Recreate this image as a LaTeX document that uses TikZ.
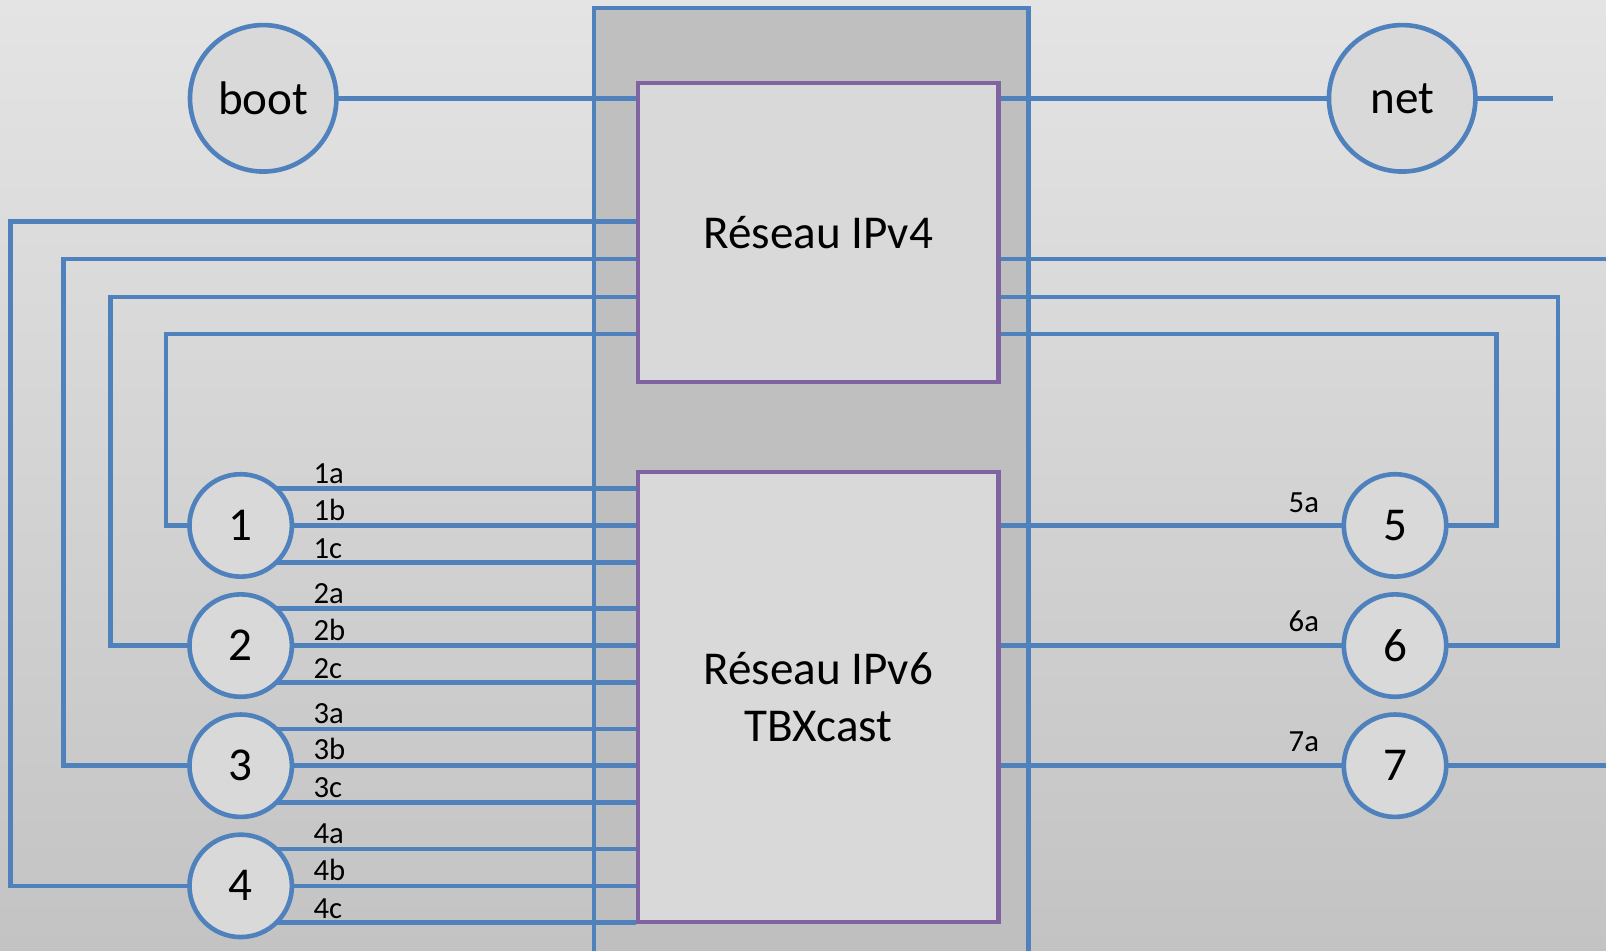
\documentclass[tikz,border=0pt]{standalone}
\usepackage{fontspec}
\setmainfont{Carlito}
\usetikzlibrary{positioning}
\definecolor{linkblue}{HTML}{4F81BD}
\definecolor{boxpurple}{HTML}{8064A2}
\definecolor{colgray}{HTML}{BFBFBF}
\definecolor{boxgray}{HTML}{D9D9D9}
\definecolor{bgtop}{HTML}{E4E4E4}
\definecolor{bgbottom}{HTML}{C3C3C3}
\pgfdeclarelayer{back}
\pgfdeclarelayer{wires}
\pgfsetlayers{back,wires,main}

\begin{document}
\begin{tikzpicture}[
        x=1pt, y=-1pt,
        link/.style={
            draw=linkblue,
            line width=4.5pt
        },
        netbox/.style={
            rectangle,
            draw=boxpurple,
            line width=4.5pt,
            fill=boxgray,
            minimum width=352pt,
            align=center,
            font=\fontsize{46}{56}\selectfont
        },
        bigport/.style={
            circle,
            draw=linkblue,
            line width=4.5pt,
            fill=boxgray,
            minimum size=143pt,
            inner sep=0pt,
            outer sep=0pt,
            font=\fontsize{46}{56}\selectfont
        },
        port/.style={
            bigport,
            minimum size=100pt
        },
        portlabel/.style={
            inner sep=0pt,
            font=\fontsize{30}{34}\selectfont
        }
    ]
    \useasboundingbox (0,0) rectangle (1568,928);

    % Background and middle column
    \begin{pgfonlayer}{back}
        \shade[top color=bgtop, bottom color=bgbottom] (0,0) rectangle (1568,928);
        \path[link, fill=colgray] (580,940) -- (580,8) -- (1004,8) -- (1004,940);
    \end{pgfonlayer}

    % Networks
    \node[netbox, minimum height=292pt] (v4) at (799,227) {Réseau IPv4};
    \node[netbox, minimum height=439pt] (v6) at (799,680.5) {Réseau IPv6\\TBXcast};

    % boot and net
    \node[bigport] (boot) at (257,96) {boot};
    \node[bigport] (net) at (1369,96) {net};

    % Ports 1 to 4 with their labels
    \node[port] (p1) at (235,513) {1};
    \node[port, below=17.3pt of p1] (p2) {2};
    \node[port, below=17.3pt of p2] (p3) {3};
    \node[port, below=17.3pt of p3] (p4) {4};
    \foreach \i/\y in {1/513,2/630,3/747,4/865}{
        \node[portlabel, anchor=base west] (l\i a) at (306,\y-41) {\i a};
        \node[portlabel, anchor=base west] (l\i b) at (306,\y-5) {\i b};
        \node[portlabel, anchor=base west] (l\i c) at (306,\y+32) {\i c};
    }

    % Ports 5 to 7 with their labels
    \node[port] (p5) at (1362,513) {5};
    \node[port, below=17.3pt of p5] (p6) {6};
    \node[port, below=17.3pt of p6] (p7) {7};
    \foreach \i/\y in {5/513,6/630,7/747}{
        \node[portlabel, anchor=base east] (l\i a) at (1288,\y-13) {\i a};
    }

    \coordinate (netend) at (1516,96);
    \coordinate (edge) at (1568,253);
    \coordinate (bend5) at (1461,326);
    \coordinate (bend6) at (1521,290);

    % Links
    \begin{pgfonlayer}{wires}
        \draw[link] (boot.east) -- (boot.east -| v4.west);
        \draw[link] (v4.east |- net) -- (net.west);
        \draw[link] (net.east) -- (netend);
        \foreach \i in {1,2,3,4}{
            \draw[link] (p\i.46) -- (p\i.46 -| v6.west);
            \draw[link] (p\i.east) -- (p\i.east -| v6.west);
            \draw[link] (p\i.-46) -- (p\i.-46 -| v6.west);
        }
        \foreach \i/\x/\y in {1/162/326,2/108/290,3/62/253,4/10/216}{
            \coordinate (bend\i) at (\x,\y);
            \draw[link] (p\i.west) -| (bend\i) -- (bend\i -| v4.west);
        }
        \foreach \i in {5,6,7}{
            \draw[link] (v6.east |- p\i) -- (p\i.west);
        }
        \draw[link] (p5.east) -| (bend5) -- (bend5 -| v4.east);
        \draw[link] (p6.east) -| (bend6) -- (bend6 -| v4.east);
        \draw[link] (p7.east) -- (p7.east -| edge);
        \draw[link] (edge -| v4.east) -- (edge);
    \end{pgfonlayer}
\end{tikzpicture}
\end{document}
